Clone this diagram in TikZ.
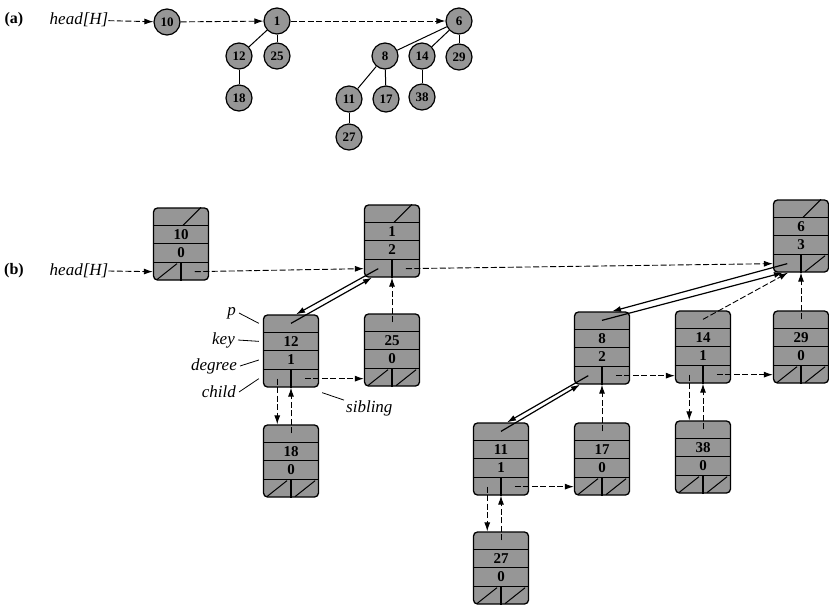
\documentclass[tikz,border=0pt]{standalone}
\usepackage{fontspec}
\setmainfont{Liberation Serif}
\usepackage{tikz}
\usetikzlibrary{positioning, arrows.meta, calc}
\definecolor{CellGray}{RGB}{150,150,150}

\newcommand{\heapnode}[4]{%
  \node[heapbox] (#1) at (#2) {};
  \draw[rowline] ([yshift=-18pt]#1.north west) -- ([yshift=-18pt]#1.north east);
  \draw[rowline] ([yshift=-36pt]#1.north west) -- ([yshift=-36pt]#1.north east);
  \draw[rowline] ([yshift=18pt]#1.south west) -- ([yshift=18pt]#1.south east);
  \draw[rowline] ([yshift=18pt]#1.south) -- (#1.south);
  \node[boxnum] (#1-key) at ([yshift=9pt]#1.center) {#3};
  \node[boxnum] (#1-deg) at ([yshift=-9pt]#1.center) {#4};
  \coordinate (#1-p) at ([yshift=-9pt]#1.north);
  \coordinate (#1-c) at ([xshift=-13.75pt,yshift=9pt]#1.south);
  \coordinate (#1-s) at ([xshift=13.75pt,yshift=9pt]#1.south);
}
\newcommand{\pnil}[1]{\draw[nilline] ([xshift=2pt,yshift=-18pt]#1.north) -- ([xshift=20pt]#1.north);}
\newcommand{\cnil}[1]{\draw[nilline] ([xshift=4pt,yshift=1pt]#1.south west) -- ([xshift=-4pt,yshift=17pt]#1.south);}
\newcommand{\snil}[1]{\draw[nilline] ([xshift=4pt,yshift=1pt]#1.south) -- ([xshift=-4pt,yshift=17pt]#1.south east);}

\begin{document}
\begin{tikzpicture}[x=1pt, y=-1pt,
    treenode/.style={circle, draw, line width=1.2pt, fill=CellGray, minimum size=26pt, inner sep=0pt, font=\fontsize{13}{15}\selectfont\bfseries},
    heapbox/.style={draw, line width=1.3pt, fill=CellGray, rounded corners=4pt, minimum width=55pt, minimum height=72pt, inner sep=0pt},
    rowline/.style={line width=1.3pt},
    nilline/.style={line width=1pt},
    boxnum/.style={font=\fontsize{15}{17}\selectfont\bfseries, inner sep=0pt},
    lbl/.style={font=\fontsize{17}{20}\selectfont\itshape, inner sep=0pt},
    parttag/.style={font=\fontsize{16}{18}\selectfont\bfseries, inner sep=0pt},
    ptr/.style={-{Latex[length=9pt,width=6pt]}, line width=0.9pt, dash pattern=on 6pt off 2.5pt},
    ptrpair/.style={-{Latex[length=9pt,width=6pt]}, line width=1.2pt},
    treeline/.style={line width=1pt},
    callout/.style={line width=0.8pt}]
  \useasboundingbox (0,0) rectangle (829,606);

  \node[parttag] (ta) at (14,20) {(a)};
  \node[lbl] (ha) at (79,20) {head[H]};
  \node[treenode] (a10) at (167,22) {10};
  \node[treenode] (a1) at (277,21) {1};
  \node[treenode] (a12) at (239,56) {12};
  \node[treenode] (a25) at (277,56) {25};
  \node[treenode] (a18) at (239,98) {18};
  \node[treenode] (a6) at (459,21) {6};
  \node[treenode] (a8) at (385,56) {8};
  \node[treenode] (a14) at (422,56) {14};
  \node[treenode] (a29) at (459,57) {29};
  \node[treenode] (a11) at (349,99) {11};
  \node[treenode] (a17) at (386,99) {17};
  \node[treenode] (a38) at (422,97) {38};
  \node[treenode] (a27) at (349,137) {27};
  \draw[ptr] (ha) -- (a10);
  \draw[ptr] (a10) -- (a1);
  \draw[ptr] (a1) -- (a6);
  \draw[treeline] (a1) -- (a12);
  \draw[treeline] (a1) -- (a25);
  \draw[treeline] (a12) -- (a18);
  \draw[treeline] (a6) -- (a8);
  \draw[treeline] (a6) -- (a14);
  \draw[treeline] (a6) -- (a29);
  \draw[treeline] (a8) -- (a11);
  \draw[treeline] (a8) -- (a17);
  \draw[treeline] (a11) -- (a27);
  \draw[treeline] (a14) -- (a38);

  \node[parttag] (tb) at (14,271) {(b)};
  \node[lbl] (hb) at (79,271) {head[H]};
  \heapnode{b10}{181,244}{10}{0}
  \heapnode{b1}{392,241}{1}{2}
  \heapnode{b6}{801,236}{6}{3}
  \heapnode{b12}{291,351}{12}{1}
  \heapnode{b25}{392,350}{25}{0}
  \heapnode{b18}{291,461}{18}{0}
  \heapnode{b8}{602,348}{8}{2}
  \heapnode{b14}{703,347}{14}{1}
  \heapnode{b29}{801,347}{29}{0}
  \heapnode{b11}{501,459}{11}{1}
  \heapnode{b17}{602,459}{17}{0}
  \heapnode{b38}{703,457}{38}{0}
  \heapnode{b27}{501,568}{27}{0}
  \pnil{b10} \cnil{b10}
  \pnil{b1}
  \pnil{b6} \snil{b6}
  \cnil{b25} \snil{b25}
  \cnil{b18} \snil{b18}
  \cnil{b29} \snil{b29}
  \cnil{b17} \snil{b17}
  \cnil{b38} \snil{b38}
  \cnil{b27} \snil{b27}

  \draw[ptr] (hb.east) -- ([yshift=9pt]b10.south west);
  \draw[ptr] (b10-s) -- ([yshift=9pt]b1.south west);
  \draw[ptr] (b1-s) -- ([yshift=9pt]b6.south west);
  \draw[ptrpair] (b1-c) -- ([xshift=5pt]b12.north);
  \draw[ptrpair] (b12-p) -- ([xshift=-20pt]b1.south);
  \draw[ptrpair] (b6-c) -- ([xshift=10pt]b8.north);
  \draw[ptrpair] (b8-p) -- ([xshift=-18pt]b6.south);
  \draw[ptrpair] (b8-c) -- ([xshift=6pt]b11.north);
  \draw[ptrpair] (b11-p) -- ([xshift=-22pt]b8.south);
  \draw[ptr] (b14-p) -- ([xshift=-13pt]b6.south);
  \draw[ptr] (b25-p) -- (b25-p |- b1.south);
  \draw[ptr] (b29-p) -- (b29-p |- b6.south);
  \draw[ptr] (b17-p) -- (b17-p |- b8.south);
  \draw[ptr] (b12-c) -- (b12-c |- b18.north);
  \draw[ptr] (b18-p) -- (b18-p |- b12.south);
  \draw[ptr] (b11-c) -- (b11-c |- b27.north);
  \draw[ptr] (b27-p) -- (b27-p |- b11.south);
  \draw[ptr] (b14-c) -- (b14-c |- b38.north);
  \draw[ptr] (b38-p) -- (b38-p |- b14.south);
  \draw[ptr] (b12-s) -- (b12-s -| b25.west);
  \draw[ptr] (b8-s) -- (b8-s -| b14.west);
  \draw[ptr] (b14-s) -- (b14-s -| b29.west);
  \draw[ptr] (b11-s) -- (b11-s -| b17.west);

  \node[lbl, anchor=east] (lp) at (236,313) {p};
  \node[lbl, anchor=east] (lkey) at (235,340) {key};
  \node[lbl, anchor=east] (ldeg) at (237,366) {degree};
  \node[lbl, anchor=east] (lchild) at (236,392) {child};
  \node[lbl, anchor=west] (lsib) at (346,408) {sibling};
  \draw[callout] ([xshift=3pt]lp.east) -- ([xshift=-4pt,yshift=-9pt]b12.north west);
  \draw[callout] ([xshift=3pt]lkey.east) -- ([xshift=-4pt,yshift=-27pt]b12.north west);
  \draw[callout] ([xshift=3pt]ldeg.east) -- ([xshift=-4pt,yshift=-9pt]b12.west);
  \draw[callout] ([xshift=3pt]lchild.east) -- ([xshift=-4pt,yshift=9pt]b12.south west);
  \draw[callout] ([xshift=-2pt]lsib.north west) -- ([xshift=3pt,yshift=-5pt]b12.south east);
\end{tikzpicture}
\end{document}
